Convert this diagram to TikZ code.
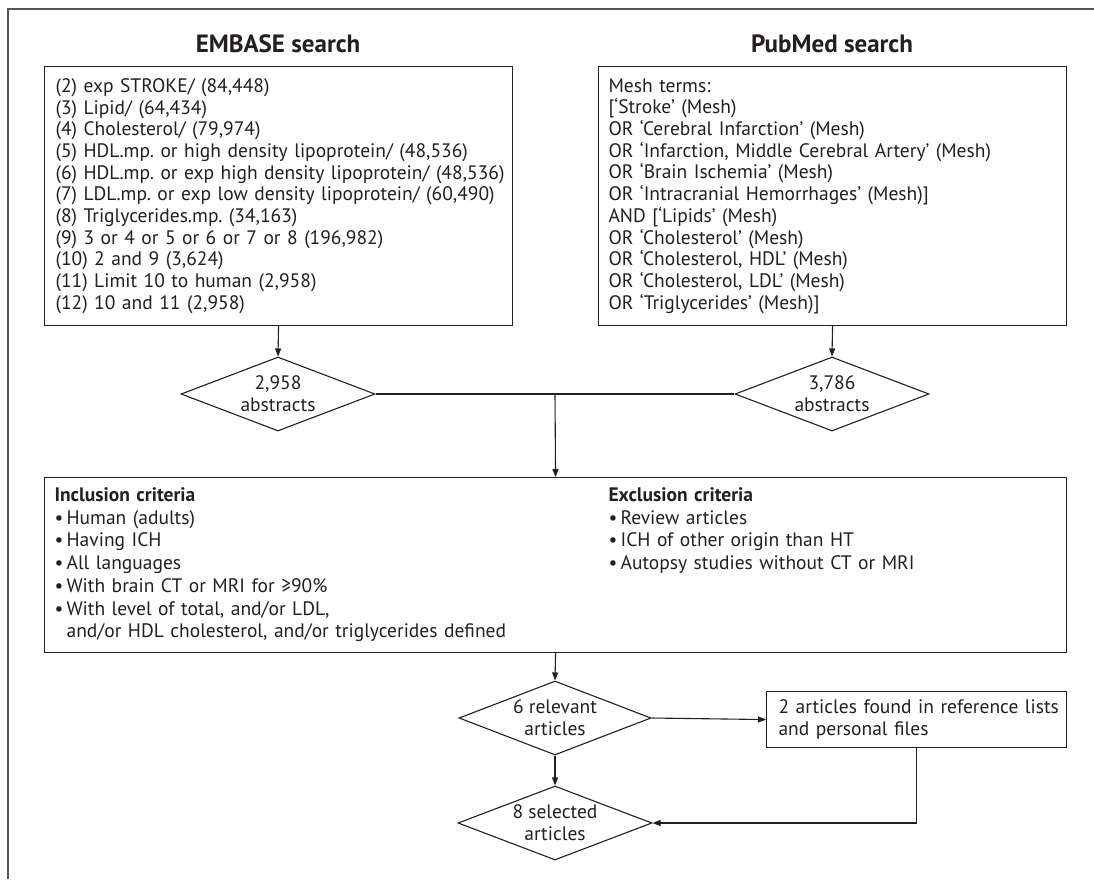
\documentclass[tikz,border=0pt]{standalone}
\usepackage{fontspec}
\setmainfont{PT Sans}
\usetikzlibrary{shapes.geometric,arrows.meta}
\definecolor{ink}{HTML}{231F20}
\definecolor{framec}{HTML}{555555}
\frenchspacing
\begin{document}
\begin{tikzpicture}[x=1pt,y=-1pt,
  txt/.style={font=\fontsize{19.5}{22.7}\selectfont\frenchspacing, text=ink},
  btxt/.style={font=\fontsize{19.5}{21.7}\selectfont\frenchspacing, text=ink},
  box/.style={draw=ink, line width=1.1pt, rectangle, inner sep=0pt},
  dia/.style={draw=ink, line width=1.1pt, shape=diamond, aspect=2.6, inner sep=0pt,
    minimum width=194pt, minimum height=74pt, align=center,
    font=\fontsize{19.5}{22}\selectfont, text=ink},
  arr/.style={draw=ink, line width=1.1pt, -{Triangle[length=8pt,width=6pt]}},
  ln/.style={draw=ink, line width=1.1pt},
  ttl/.style={font=\fontsize{25}{28}\selectfont\bfseries, text=ink}]
\useasboundingbox (0,0) rectangle (1094,879);
\fill[white] (0,0) rectangle (1094,879);
\draw[framec, line width=1.6pt] (8,879) -- (8,9) -- (1094,9);

\node[ttl] (t1) at (278,44) {EMBASE search};
\node[ttl] (t2) at (832,44) {PubMed search};

\node[box, btxt, anchor=north west, minimum width=468pt, minimum height=259pt,
  text width=460pt, inner xsep=4pt, align=left] (embase) at (44,66)
  {\leftskip=7pt\relax
   (2) exp STROKE/ (84,448)\\
   (3) Lipid/ (64,434)\\
   (4) Cholesterol/ (79,974)\\
   (5) HDL.mp. or high density lipoprotein/ (48,536)\\
   (6) HDL.mp. or exp high density lipoprotein/ (48,536)\\
   (7) LDL.mp. or exp low density lipoprotein/ (60,490)\\
   (8) Triglycerides.mp. (34,163)\\
   (9) 3 or 4 or 5 or 6 or 7 or 8 (196,982)\\
   (10) 2 and 9 (3,624)\\
   (11) Limit 10 to human (2,958)\\
   (12) 10 and 11 (2,958)\par};

\node[box, btxt, anchor=north west, minimum width=468pt, minimum height=259pt,
  text width=460pt, inner xsep=4pt, align=left] (pubmed) at (598,66)
  {\leftskip=6pt\relax
   Mesh terms:\\{}%
   [‘Stroke’ (Mesh)\\
   OR ‘Cerebral Infarction’ (Mesh)\\
   OR ‘Infarction, Middle Cerebral Artery’ (Mesh)\\
   OR ‘Brain Ischemia’ (Mesh)\\
   OR ‘Intracranial Hemorrhages’ (Mesh)]\\
   AND [‘Lipids’ (Mesh)\\
   OR ‘Cholesterol’ (Mesh)\\
   OR ‘Cholesterol, HDL’ (Mesh)\\
   OR ‘Cholesterol, LDL’ (Mesh)\\
   OR ‘Triglycerides’ (Mesh)]\par};

\node[dia] (d1) at (278,394) {2,958\\abstracts};
\node[dia] (d2) at (832,394) {3,786\\abstracts};
\coordinate (j) at (555,394);

\node[box, txt, anchor=north west, minimum width=1022pt, minimum height=175pt,
  text width=1002pt, inner xsep=10pt] (crit) at (44,477)
  {\noindent\makebox[554pt][l]{\begin{tabular}[t]{@{}l@{}}
   \textbf{Inclusion criteria}\\
   •\,Human (adults)\\
   •\,Having ICH\\
   •\,All languages\\
   •\,With brain CT or MRI for ≥90\%\\
   •\,With level of total, and/or LDL,\\
   \phantom{•\,}and/or HDL cholesterol, and/or triglycerides defined
   \end{tabular}}\begin{tabular}[t]{@{}l@{}}
   \textbf{Exclusion criteria}\\
   •\,Review articles\\
   •\,ICH of other origin than HT\\
   •\,Autopsy studies without CT or MRI
   \end{tabular}};

\node[dia, minimum width=192pt] (rel) at (555,718) {6 relevant\\articles};
\node[box, btxt, anchor=north west, minimum width=300pt, minimum height=56pt,
  text width=292pt, inner xsep=4pt, align=left] (found) at (766,691)
  {\leftskip=8pt\relax 2 articles found in reference lists\\and personal files\par};
\node[dia] (sel) at (555,823) {8 selected\\articles};

\draw[arr] (embase.south) -- (d1.north);
\draw[arr] (pubmed.south) -- (d2.north);
\draw[ln] (d1.east) -- (d2.west);
\draw[arr] (j) -- (crit.north);
\draw[arr] (crit.south) -- (rel.north);
\draw[arr] (rel.east) -- (found.west);
\draw[arr] (rel.south) -- (sel.north);
\draw[arr] (found.south) |- (sel.east);
\end{tikzpicture}
\end{document}
